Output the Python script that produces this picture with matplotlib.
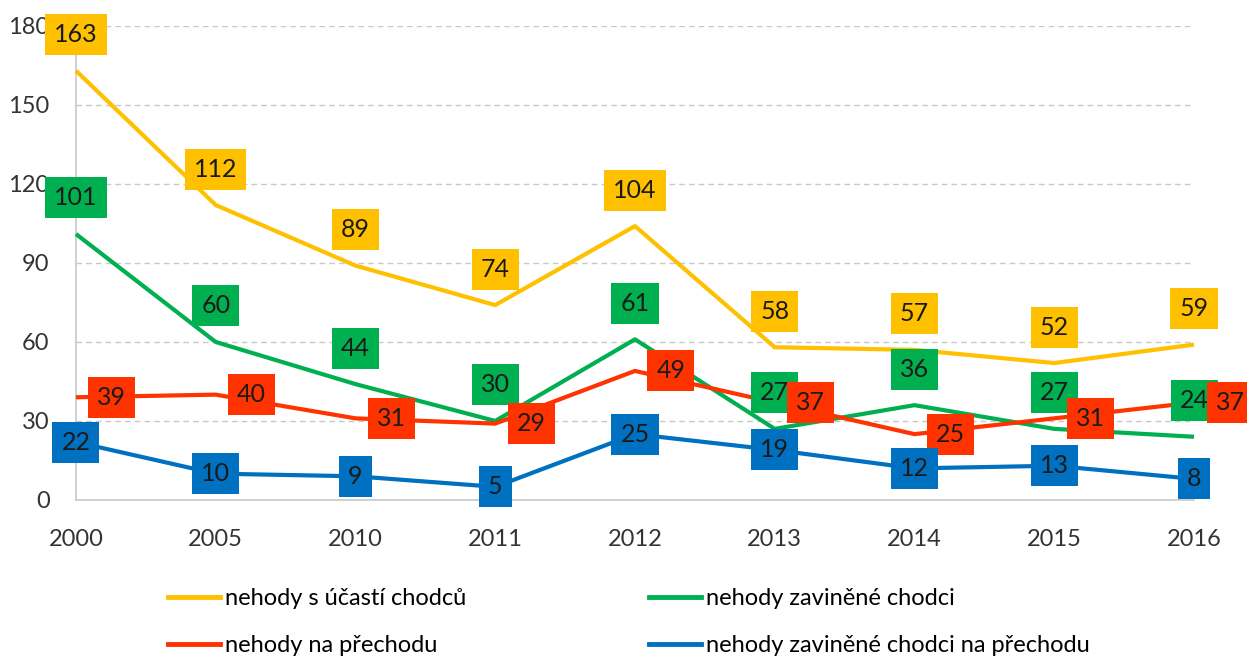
import matplotlib
matplotlib.use("Agg")
import matplotlib.pyplot as plt
from matplotlib.lines import Line2D

# =========================================================
# DATA
# =========================================================

years = ["2000", "2005", "2010", "2011", "2012", "2013", "2014", "2015", "2016"]

ucast_chodcu = [163, 112, 89, 74, 104, 58, 57, 52, 59]
zavinene_chodci = [101, 60, 44, 30, 61, 27, 36, 27, 24]
na_prechodu = [39, 40, 31, 29, 49, 37, 25, 31, 37]
zavinene_na_prechodu = [22, 10, 9, 5, 25, 19, 12, 13, 8]

series_names = [
    "nehody s účastí chodců",
    "nehody zaviněné chodci",
    "nehody na přechodu",
    "nehody zaviněné chodci na přechodu",
]

y_ticks = [0, 30, 60, 90, 120, 150, 180]

# =========================================================
# STYLE
# =========================================================

plt.rcParams["font.family"] = ["Lato", "DejaVu Sans"]

YELLOW = "#FFC000"
GREEN = "#00B050"
RED = "#FF3300"
BLUE = "#0070C0"

fig = plt.figure(figsize=(12.47, 6.57), dpi=100)
ax = fig.add_axes([0.0609, 0.239, 0.8966, 0.7215])

x = list(range(len(years)))

# (values, colour, label offset in pixels, zorder)
series = [
    (ucast_chodcu, YELLOW, (0, 36), 3),
    (zavinene_chodci, GREEN, (0, 36), 4),
    (na_prechodu, RED, (36, 0), 5),
    (zavinene_na_prechodu, BLUE, (0, 0), 6),
]

for (values, color, offset, z), name in zip(series, series_names):

    ax.plot(x, values, color=color, linewidth=3, zorder=z,
            solid_capstyle="butt", clip_on=False)

    for xi, v in zip(x, values):
        ax.annotate(
            str(v),
            (xi, v),
            xytext=offset,
            textcoords="offset pixels",
            ha="center",
            va="center",
            fontsize=18,
            color="#1a1a1a",
            zorder=z + 10,
            annotation_clip=False,
            bbox=dict(boxstyle="square,pad=0.36", fc=color, ec="none"),
        )

# =========================================================
# AXES
# =========================================================

ax.set_xlim(0, len(years) - 1)
ax.set_ylim(0, 180)

ax.set_xticks(x)
ax.set_xticklabels(years)
ax.set_yticks(y_ticks)

ax.tick_params(axis="both", length=0, labelsize=17, colors="#333333")
ax.tick_params(axis="x", pad=21)
ax.tick_params(axis="y", pad=19)

ax.grid(axis="y", color="#c8c8c8", linestyle=(0, (4, 3)), linewidth=1)
ax.set_axisbelow(True)

for side in ["top", "right"]:
    ax.spines[side].set_visible(False)

ax.spines["left"].set_color("#c8c8c8")
ax.spines["bottom"].set_color("#c8c8c8")
ax.spines["left"].set_linewidth(1.2)
ax.spines["bottom"].set_linewidth(1.2)

# =========================================================
# LEGEND
# =========================================================

colors = [YELLOW, GREEN, RED, BLUE]

handles = [
    Line2D([0], [0], color=c, linewidth=3.5)
    for c in colors
]

order = [0, 2, 1, 3]

fig.legend(
    [handles[i] for i in order],
    [series_names[i] for i in order],
    ncol=2,
    loc="upper left",
    bbox_to_anchor=(0.1347, 0.105),
    frameon=False,
    fontsize=17,
    handlelength=2.2,
    handletextpad=0.2,
    columnspacing=7.75,
    labelspacing=1.1,
    borderaxespad=0,
    borderpad=0,
)

plt.savefig("out.png", dpi=100)
